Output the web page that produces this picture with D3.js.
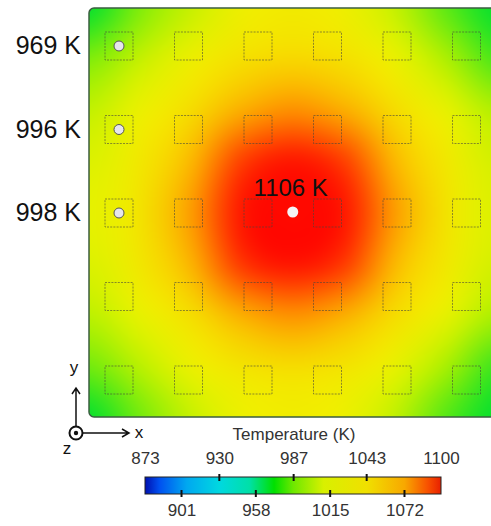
<!DOCTYPE html>
<html lang="en">
<head>
<meta charset="utf-8">
<title>Plate temperature</title>
<script src="https://cdnjs.cloudflare.com/ajax/libs/d3/7.8.5/d3.min.js"></script>
<style>
  body { margin: 0; background: #fff; }
  svg { display: block; font-family: "Liberation Sans", Arial, sans-serif; }
</style>
</head>
<body>
<script>

// temperatures on a 9 x 9 grid (K), top row first
var plateTemps = [
  [925,  958,  980,  998, 1003,  998,  980,  950,  912],
  [958,  980,  998, 1012, 1020, 1012,  996,  972,  945],
  [978,  996, 1015, 1038, 1050, 1038, 1015,  994,  972],
  [988, 1004, 1034, 1075, 1095, 1075, 1034, 1004,  985],
  [992, 1008, 1045, 1095, 1106, 1095, 1045, 1008,  988],
  [988, 1005, 1036, 1078, 1097, 1077, 1034, 1004,  985],
  [976,  994, 1013, 1038, 1050, 1038, 1015,  994,  970],
  [955,  976,  996, 1008, 1015, 1008,  994,  970,  942],
  [922,  955,  980,  996, 1000,  996,  978,  948,  910]
];

// probes (column, row of the square pattern) and their labels
var probeCols = [0, 0, 0];
var probeRows = [0, 1, 2];
var probeLabels = ["969 K", "996 K", "998 K"];
var peakCol = 2.5, peakRow = 2, peakLabel = "1106 K";

// colour bar
var barTopTicks = [873, 930, 987, 1043, 1100];
var barBottomTicks = [901, 958, 1015, 1072];
var barStopTemps  = [873, 884, 905, 930, 953, 972, 987, 1010, 1043, 1072, 1090, 1100];
var barStopColors = ["#0010b0", "#0050f0", "#00a8f0", "#00d8e0", "#00e0a8", "#00e000",
                     "#70e800", "#d8f000", "#f0e000", "#f8a800", "#f85000", "#e82000"];

// colours used on the plate itself
var plateStopTemps  = [930, 965, 995, 1025, 1055, 1082, 1100];
var plateStopColors = ["#00e030", "#a0f000", "#eef200", "#fad400", "#ff8200", "#ff2000", "#ff0800"];

var w = 491, h = 526;

var svg = d3.select("body").append("svg")
  .attr("width", w)
  .attr("height", h);

//Plate geometry
var px0 = 89, px1 = 497, py0 = 8, py1 = 417;
var nx = plateTemps[0].length, ny = plateTemps.length;
var gx = d3.scaleLinear().domain([0, nx - 1]).range([px0, px1]);
var gy = d3.scaleLinear().domain([0, ny - 1]).range([py0, py1]);
var sx = d3.scaleLinear().domain([0, 5]).range([119, 466.5]);
var sy = d3.scaleLinear().domain([0, 4]).range([46, 380]);

var plateColor = d3.scaleLinear().domain(plateStopTemps).range(plateStopColors).clamp(true);

//Paint the grid into a tiny canvas, then let the browser smooth it up
var small = document.createElement("canvas");
small.width = nx; small.height = ny;
var sctx = small.getContext("2d");
var img = sctx.createImageData(nx, ny);
plateTemps.forEach(function(row, j) {
  row.forEach(function(t, i) {
    var c = d3.rgb(plateColor(t));
    var k = (j * nx + i) * 4;
    img.data[k] = c.r; img.data[k + 1] = c.g; img.data[k + 2] = c.b; img.data[k + 3] = 255;
  });
});
sctx.putImageData(img, 0, 0);

var cw = gx(1) - gx(0), ch = gy(1) - gy(0);
var big = document.createElement("canvas");
big.width = Math.round(nx * cw); big.height = Math.round(ny * ch);
var bctx = big.getContext("2d");
bctx.imageSmoothingEnabled = true;
bctx.imageSmoothingQuality = "high";
bctx.drawImage(small, 0, 0, big.width, big.height);

var defs = svg.append("defs");
defs.append("clipPath").attr("id", "plateClip")
  .append("rect")
  .attr("x", px0).attr("y", py0)
  .attr("width", px1 - px0).attr("height", py1 - py0)
  .attr("rx", 5);

svg.append("image")
  .attr("clip-path", "url(#plateClip)")
  .attr("x", px0 - cw / 2).attr("y", py0 - ch / 2)
  .attr("width", big.width).attr("height", big.height)
  .attr("preserveAspectRatio", "none")
  .attr("href", big.toDataURL());

svg.append("rect")
  .attr("x", px0).attr("y", py0)
  .attr("width", px1 - px0).attr("height", py1 - py0)
  .attr("rx", 5)
  .attr("fill", "none")
  .attr("stroke", "#3b5e40")
  .attr("stroke-width", 1.5);

//Dashed squares
var cells = d3.cross(d3.range(6), d3.range(5));
svg.append("g").selectAll("rect")
  .data(cells)
  .enter()
  .append("rect")
  .attr("x", function(d) { return sx(d[0]) - 14; })
  .attr("y", function(d) { return sy(d[1]) - 14; })
  .attr("width", 28).attr("height", 28)
  .attr("fill", "none")
  .attr("stroke", "rgba(70,70,60,0.6)")
  .attr("stroke-width", 1)
  .attr("stroke-dasharray", "2,1.2");

//Probes
svg.append("g").selectAll("circle")
  .data(probeLabels)
  .enter()
  .append("circle")
  .attr("cx", function(d, i) { return sx(probeCols[i]); })
  .attr("cy", function(d, i) { return sy(probeRows[i]); })
  .attr("r", 5)
  .attr("fill", "#e6e6ec")
  .attr("stroke", "#555")
  .attr("stroke-width", 1);

svg.append("g").selectAll("text")
  .data(probeLabels)
  .enter()
  .append("text")
  .attr("x", 81)
  .attr("y", function(d, i) { return sy(probeRows[i]) + 8; })
  .attr("text-anchor", "end")
  .attr("font-size", 25)
  .attr("fill", "#111")
  .text(function(d) { return d; });

svg.append("circle")
  .attr("cx", sx(peakCol)).attr("cy", sy(peakRow) - 1)
  .attr("r", 5.5)
  .attr("fill", "#f4f4f6");

svg.append("text")
  .attr("x", sx(peakCol) - 2).attr("y", sy(peakRow) - 17)
  .attr("text-anchor", "middle")
  .attr("font-size", 24)
  .attr("fill", "#111")
  .text(peakLabel);

//Coordinate triad
var tri = svg.append("g").attr("transform", "translate(76,433)")
  .attr("stroke", "#111").attr("fill", "none").attr("stroke-width", 1.5);
tri.append("circle").attr("r", 6.5).attr("stroke-width", 2).attr("fill", "#fff");
tri.append("circle").attr("r", 2.2).attr("fill", "#111").attr("stroke", "none");
tri.append("path").attr("d", "M0,-7V-44M-4,-39L0,-45L4,-39");
tri.append("path").attr("d", "M7,0H52M46,-4L53,0L46,4");
svg.append("text").attr("x", 74).attr("y", 373).attr("text-anchor", "middle")
  .attr("font-size", 17).attr("fill", "#111").text("y");
svg.append("text").attr("x", 139).attr("y", 438).attr("text-anchor", "middle")
  .attr("font-size", 17).attr("fill", "#111").text("x");
svg.append("text").attr("x", 67).attr("y", 454).attr("text-anchor", "middle")
  .attr("font-size", 17).attr("fill", "#111").text("z");

//Colour bar
var bx = d3.scaleLinear().domain([873, 1100]).range([145, 441]);
var barY = 477, barH = 17;

var grad = defs.append("linearGradient").attr("id", "barGrad")
  .attr("x1", "0%").attr("x2", "100%").attr("y1", "0%").attr("y2", "0%");
grad.selectAll("stop")
  .data(barStopTemps)
  .enter()
  .append("stop")
  .attr("offset", function(d) { return ((bx(d) - bx.range()[0]) / (bx.range()[1] - bx.range()[0]) * 100) + "%"; })
  .attr("stop-color", function(d, i) { return barStopColors[i]; });

svg.append("text")
  .attr("x", 294).attr("y", 440)
  .attr("text-anchor", "middle")
  .attr("font-size", 17)
  .attr("fill", "#333")
  .text("Temperature (K)");

svg.append("rect")
  .attr("x", bx(873)).attr("y", barY)
  .attr("width", bx(1100) - bx(873)).attr("height", barH)
  .attr("fill", "url(#barGrad)")
  .attr("stroke", "#222")
  .attr("stroke-width", 1);

var topAxis = svg.append("g")
  .attr("transform", "translate(0," + barY + ")")
  .call(d3.axisTop(bx).tickValues(barTopTicks).tickSize(0).tickPadding(13).tickFormat(d3.format("d")));
var botAxis = svg.append("g")
  .attr("transform", "translate(0," + (barY + barH) + ")")
  .call(d3.axisBottom(bx).tickValues(barBottomTicks).tickSize(0).tickPadding(10).tickFormat(d3.format("d")));
[topAxis, botAxis].forEach(function(a) {
  a.select(".domain").remove();
  a.selectAll("text").attr("font-size", 17).attr("fill", "#333")
    .attr("font-family", "'Liberation Sans', Arial, sans-serif");
});

// tick marks straddle the bar edges
svg.append("g").selectAll("line")
  .data(barTopTicks.filter(function(d) { return d > 873 && d < 1100; }))
  .enter()
  .append("line")
  .attr("x1", function(d) { return bx(d); }).attr("x2", function(d) { return bx(d); })
  .attr("y1", barY - 3).attr("y2", barY + 4)
  .attr("stroke", "#111").attr("stroke-width", 2);
svg.append("g").selectAll("line")
  .data(barBottomTicks)
  .enter()
  .append("line")
  .attr("x1", function(d) { return bx(d); }).attr("x2", function(d) { return bx(d); })
  .attr("y1", barY + barH - 4).attr("y2", barY + barH + 3)
  .attr("stroke", "#111").attr("stroke-width", 2);

</script>
</body>
</html>
